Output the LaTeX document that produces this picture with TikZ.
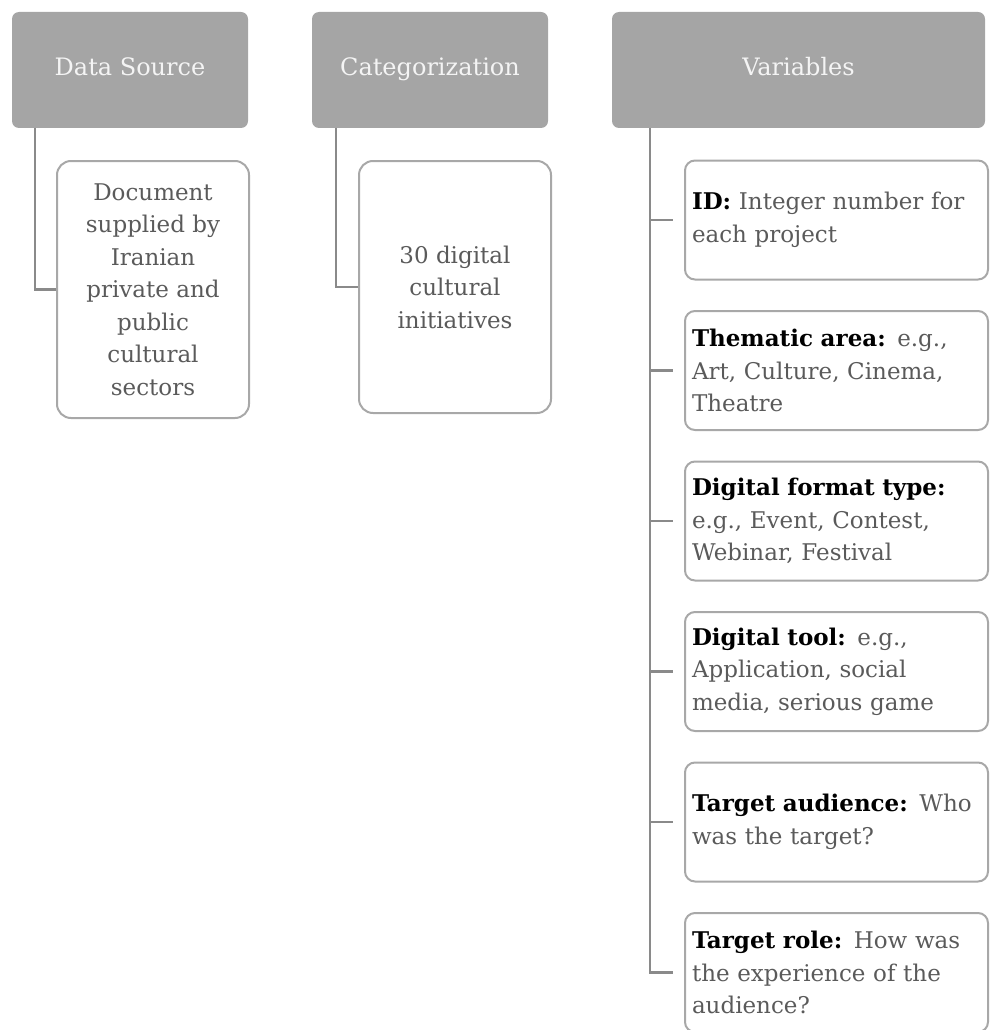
\documentclass[tikz,border=0pt]{standalone}
\usepackage{fontspec}
\setmainfont{DejaVu Serif}
\usetikzlibrary{positioning}
\definecolor{hdrgray}{HTML}{A5A5A5}
\definecolor{hdrtext}{HTML}{F4F4F4}
\definecolor{boxline}{HTML}{A8A8A8}
\definecolor{linkgray}{HTML}{8A8A8A}
\definecolor{txtgray}{HTML}{5A5A5A}
\newcommand{\bodyfont}{\fontsize{23}{32.5}\selectfont}
\newcommand{\keyterm}[1]{\textcolor{black}{\bfseries #1}}
\begin{document}
\begin{tikzpicture}[x=1pt,y=-1pt,line width=2pt,
  head/.style={fill=hdrgray, rounded corners=7pt, minimum height=116pt, text height=17pt, text depth=5pt, text=hdrtext, font=\fontsize{24}{28}\selectfont},
  leaf/.style={draw=boxline, rounded corners=14pt, minimum width=192pt, align=center, text=txtgray, font=\bodyfont},
  item/.style={draw=boxline, rounded corners=10pt, minimum width=303pt, minimum height=119pt, text width=289pt, align=left, text=txtgray, font=\bodyfont},
  link/.style={draw=linkgray, line width=2.5pt}]
\useasboundingbox (0,0) rectangle (992,1030);
% headers
\node (h1) [head, minimum width=236pt] at (130,70) {Data Source};
\node (h2) [head, minimum width=236pt] at (430,70) {Categorization};
\node (h3) [head, minimum width=373pt] at (798.5,70) {Variables};
% first two columns
\node (c1) [leaf, minimum height=257pt] at (153,289.5) {Document\\supplied by\\Iranian\\private and\\public\\cultural\\sectors};
\node (c2) [leaf, minimum height=252pt] at (455,287) {30 digital\\cultural\\initiatives};
% variables
\node (v1) [item] at (836.5,220) {\keyterm{ID:} Integer number for\\each project};
\node (v2) [item] at (836.5,370.5) {\keyterm{Thematic area:} e.g.,\\Art, Culture, Cinema,\\Theatre};
\node (v3) [item] at (836.5,521) {\keyterm{Digital format type:}\\e.g., Event, Contest,\\Webinar, Festival};
\node (v4) [item] at (836.5,671.5) {\keyterm{Digital tool:} e.g.,\\Application, social\\media, serious game};
\node (v5) [item] at (836.5,822) {\keyterm{Target audience:} Who\\was the target?};
\node (v6) [item] at (836.5,972.5) {\keyterm{Target role:} How was\\the experience of the\\audience?};
% connectors
\coordinate (s1) at (35,128);
\coordinate (s2) at (336,128);
\coordinate (s3) at (650,128);
\draw[link] (s1) |- (c1.west);
\draw[link] (s2) |- (c2.west);
\draw[link, shorten >=11pt] (s3) |- (v6.west);
\foreach \i in {1,...,5}
  \draw[link, shorten >=11pt] (s3 |- v\i.west) -- (v\i.west);
\end{tikzpicture}
\end{document}
